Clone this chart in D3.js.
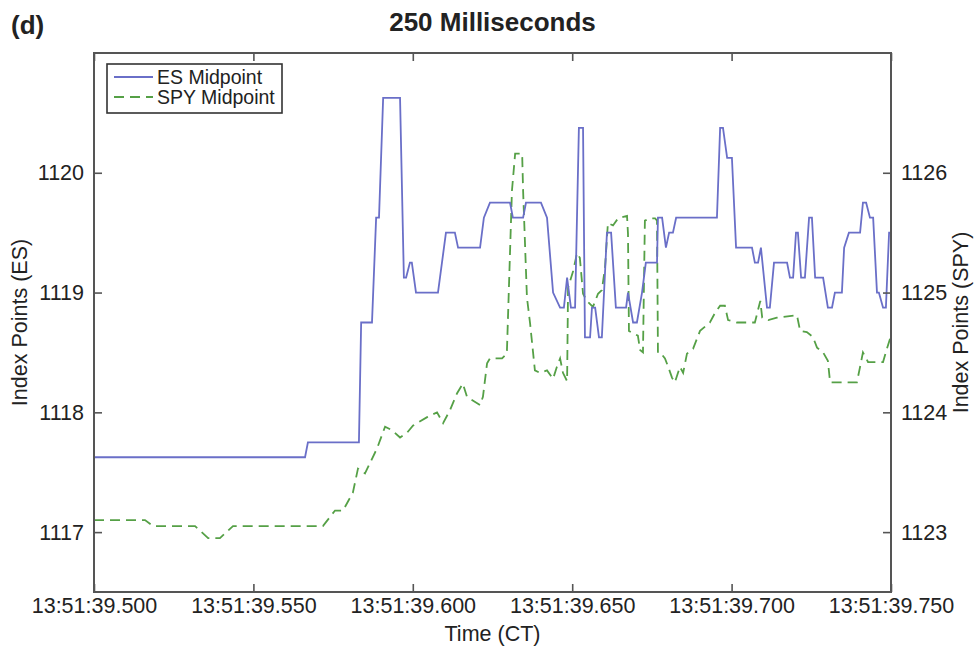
<!DOCTYPE html>
<html>
<head>
<meta charset="utf-8">
<script src="https://cdn.jsdelivr.net/npm/d3@7"></script>
<style>
  html, body { margin: 0; padding: 0; background: #fff; }
  svg { display: block; }
  text { font-family: "Liberation Sans", Arial, Helvetica, sans-serif; fill: #222; }
</style>
</head>
<body>
<svg id="chart" width="975" height="648"></svg>
<script>
// Time offsets in milliseconds after 13:51:39.500 (CT)
const esTime = [0, 66.2, 67.1, 83.1, 83.8, 87.2, 88.5, 89.4, 90.7, 96.0, 97.2, 97.9, 99.1, 99.7, 101.0, 107.9, 110.4, 113.2, 114.2, 121.1, 122.3, 124.2, 130.5, 131.4, 134.6, 135.5, 140.2, 142.1, 144.0, 146.2, 147.4, 148.4, 149.6, 150.9, 152.1, 153.4, 154.0, 155.6, 156.2, 157.2, 158.4, 159.3, 160.9, 162.2, 163.7, 166.9, 167.5, 169.1, 170.3, 171.9, 173.1, 176.6, 176.9, 178.2, 179.4, 180.4, 181.6, 182.6, 195.4, 196.4, 197.3, 198.6, 200.1, 201.4, 206.4, 207.3, 208.3, 209.2, 211.1, 212.0, 213.3, 217.4, 218.3, 219.3, 220.2, 220.8, 221.8, 223.0, 224.3, 225.2, 226.2, 228.7, 230.2, 231.5, 232.4, 234.6, 235.3, 236.8, 240.3, 241.2, 242.2, 243.4, 244.4, 245.6, 246.2, 247.5, 248.4, 249.4, 250];
const esValue = [1117.625, 1117.625, 1117.75, 1117.75, 1118.75, 1118.75, 1119.625, 1119.625, 1120.625, 1120.625, 1119.125, 1119.125, 1119.25, 1119.25, 1119.0, 1119.0, 1119.5, 1119.5, 1119.375, 1119.375, 1119.625, 1119.75, 1119.75, 1119.625, 1119.625, 1119.75, 1119.75, 1119.625, 1119.0, 1118.875, 1118.875, 1119.125, 1118.875, 1118.875, 1120.375, 1120.375, 1118.625, 1118.625, 1118.875, 1118.875, 1118.625, 1118.625, 1119.5, 1119.5, 1118.875, 1118.875, 1119.0, 1118.75, 1118.75, 1119.0, 1119.25, 1119.25, 1119.625, 1119.625, 1119.375, 1119.5, 1119.5, 1119.625, 1119.625, 1120.375, 1120.375, 1120.125, 1120.125, 1119.375, 1119.375, 1119.25, 1119.25, 1119.375, 1118.875, 1118.875, 1119.25, 1119.25, 1119.125, 1119.125, 1119.5, 1119.5, 1119.125, 1119.125, 1119.625, 1119.625, 1119.125, 1119.125, 1118.875, 1118.875, 1119.0, 1119.0, 1119.375, 1119.5, 1119.5, 1119.75, 1119.75, 1119.625, 1119.625, 1119.0, 1119.0, 1118.875, 1118.875, 1119.5, 1119.5];

const spyTime = [0, 16.0, 18.5, 31.7, 35.8, 39.5, 43.6, 71.8, 75.6, 78.1, 81.2, 82.8, 85.0, 88.8, 91.3, 93.5, 96.0, 98.2, 100.1, 104.5, 107.6, 109.5, 111.7, 113.9, 115.7, 117.0, 121.1, 122.0, 123.3, 124.2, 128.0, 129.5, 131.1, 132.1, 134.3, 134.6, 135.8, 136.8, 138.3, 139.9, 142.1, 144.0, 145.2, 146.2, 147.1, 148.4, 148.7, 150.3, 151.5, 152.4, 153.4, 154.6, 156.5, 158.1, 159.3, 160.3, 161.2, 162.8, 164.4, 167.2, 167.5, 167.8, 169.1, 170.6, 171.3, 172.2, 172.8, 174.4, 176.0, 176.6, 176.9, 178.2, 179.1, 180.1, 181.3, 182.2, 183.8, 184.8, 186.0, 187.9, 190.1, 193.2, 194.8, 196.4, 197.9, 198.9, 201.7, 207.3, 209.0, 209.6, 211.5, 214.2, 220.5, 221.5, 223.6, 225.5, 226.8, 228.7, 230.2, 230.9, 239.3, 240.3, 241.2, 242.8, 247.5, 248.7, 250];
const spyValue = [1123.10, 1123.10, 1123.05, 1123.05, 1122.95, 1122.95, 1123.05, 1123.05, 1123.18, 1123.18, 1123.33, 1123.53, 1123.49, 1123.70, 1123.88, 1123.85, 1123.79, 1123.83, 1123.89, 1123.96, 1124.00, 1123.91, 1124.02, 1124.16, 1124.24, 1124.13, 1124.06, 1124.13, 1124.41, 1124.45, 1124.45, 1124.49, 1125.85, 1126.16, 1126.16, 1125.85, 1124.96, 1124.74, 1124.35, 1124.33, 1124.35, 1124.28, 1124.38, 1124.45, 1124.33, 1124.26, 1125.04, 1125.18, 1125.33, 1125.29, 1124.99, 1124.93, 1124.88, 1124.99, 1125.02, 1125.21, 1125.58, 1125.56, 1125.62, 1125.64, 1125.49, 1124.68, 1124.66, 1124.64, 1124.52, 1124.50, 1125.60, 1125.62, 1125.62, 1125.60, 1124.49, 1124.48, 1124.45, 1124.38, 1124.29, 1124.25, 1124.38, 1124.33, 1124.49, 1124.53, 1124.68, 1124.75, 1124.83, 1124.89, 1124.89, 1124.77, 1124.75, 1124.75, 1124.93, 1124.79, 1124.77, 1124.79, 1124.81, 1124.68, 1124.67, 1124.63, 1124.54, 1124.50, 1124.43, 1124.25, 1124.25, 1124.38, 1124.50, 1124.42, 1124.42, 1124.53, 1124.64];

const xTicks = [0, 50, 100, 150, 200, 250];
const xTickLabels = ["13:51:39.500", "13:51:39.550", "13:51:39.600", "13:51:39.650", "13:51:39.700", "13:51:39.750"];
const esTicks = [1117, 1118, 1119, 1120];
const spyTicks = [1123, 1124, 1125, 1126];
const seriesNames = ["ES Midpoint", "SPY Midpoint"];

const svg = d3.select("#chart");
const L = 94, R = 891, T = 53, B = 592;

const x = d3.scaleLinear().domain([0, 250]).range([L, R]);
const yL = d3.scaleLinear().domain([1116.5, 1121]).range([B, T]);
const yR = d3.scaleLinear().domain([1122.5, 1127]).range([B, T]);

const axisColor = "#555";
const fontSize = 21.5;
const esColor = "#6a6fc8";
const spyColor = "#55a046";
const spyDash = "10,6";

// Lines (clipped to the plot)
svg.append("clipPath").attr("id", "clip").append("rect")
  .attr("x", L).attr("y", T).attr("width", R - L).attr("height", B - T);

const esData = esTime.map((t, i) => [t, esValue[i]]);
const spyData = spyTime.map((t, i) => [t, spyValue[i]]);

const g = svg.append("g").attr("clip-path", "url(#clip)");
g.append("path")
  .datum(spyData)
  .attr("fill", "none")
  .attr("stroke", spyColor)
  .attr("stroke-width", 1.8)
  .attr("stroke-dasharray", spyDash)
  .attr("d", d3.line().x(d => x(d[0])).y(d => yR(d[1])));
g.append("path")
  .datum(esData)
  .attr("fill", "none")
  .attr("stroke", esColor)
  .attr("stroke-width", 1.8)
  .attr("d", d3.line().x(d => x(d[0])).y(d => yL(d[1])));

// Axes
function styleAxis(sel) {
  sel.select(".domain").remove();
  sel.selectAll(".tick line").attr("stroke", axisColor).attr("stroke-width", 1.6);
  sel.selectAll(".tick text")
    .attr("font-size", fontSize)
    .attr("font-family", "'Liberation Sans', Arial, Helvetica, sans-serif")
    .attr("fill", "#222");
}

const xAxis = d3.axisBottom(x).tickValues(xTicks)
  .tickFormat((d, i) => xTickLabels[i]).tickSize(-8).tickPadding(6);
svg.append("g").attr("transform", `translate(0,${B})`).call(xAxis).call(styleAxis);

const xTop = d3.axisTop(x).tickValues(xTicks).tickFormat("").tickSize(-8);
svg.append("g").attr("transform", `translate(0,${T})`).call(xTop).call(styleAxis);

const leftAxis = d3.axisLeft(yL).tickValues(esTicks).tickFormat(d3.format("d"))
  .tickSize(-8).tickPadding(10);
svg.append("g").attr("transform", `translate(${L},0)`).call(leftAxis).call(styleAxis);

const rightAxis = d3.axisRight(yR).tickValues(spyTicks).tickFormat(d3.format("d"))
  .tickSize(-8).tickPadding(10);
svg.append("g").attr("transform", `translate(${R},0)`).call(rightAxis).call(styleAxis);

// Box
svg.append("rect")
  .attr("x", L).attr("y", T).attr("width", R - L).attr("height", B - T)
  .attr("fill", "none").attr("stroke", axisColor).attr("stroke-width", 2);

// Titles
svg.append("text").attr("x", (L + R) / 2).attr("y", 31)
  .attr("text-anchor", "middle").attr("font-size", 26).attr("font-weight", "bold")
  .text("250 Milliseconds");
svg.append("text").attr("x", 11).attr("y", 34)
  .attr("font-size", 26).attr("font-weight", "bold").text("(d)");

svg.append("text").attr("x", (L + R) / 2).attr("y", 641)
  .attr("text-anchor", "middle").attr("font-size", fontSize).text("Time (CT)");

svg.append("text")
  .attr("transform", `translate(27,${(T + B) / 2}) rotate(-90)`)
  .attr("text-anchor", "middle").attr("font-size", fontSize).text("Index Points (ES)");

svg.append("text")
  .attr("transform", `translate(968,${(T + B) / 2}) rotate(-90)`)
  .attr("text-anchor", "middle").attr("font-size", fontSize).text("Index Points (SPY)");

// Legend
const leg = svg.append("g");
leg.append("rect").attr("x", 107).attr("y", 64).attr("width", 175).attr("height", 49)
  .attr("fill", "#fff").attr("stroke", "#333").attr("stroke-width", 1.6);
const legStyles = [
  { color: esColor, dash: null },
  { color: spyColor, dash: spyDash }
];
seriesNames.forEach((name, i) => {
  const yy = 77 + i * 20;
  leg.append("line").attr("x1", 114).attr("x2", 153).attr("y1", yy).attr("y2", yy)
    .attr("stroke", legStyles[i].color).attr("stroke-width", 1.8)
    .attr("stroke-dasharray", legStyles[i].dash);
  leg.append("text").attr("x", 157).attr("y", yy + 7)
    .attr("font-size", 19.5).text(name);
});
</script>
</body>
</html>
